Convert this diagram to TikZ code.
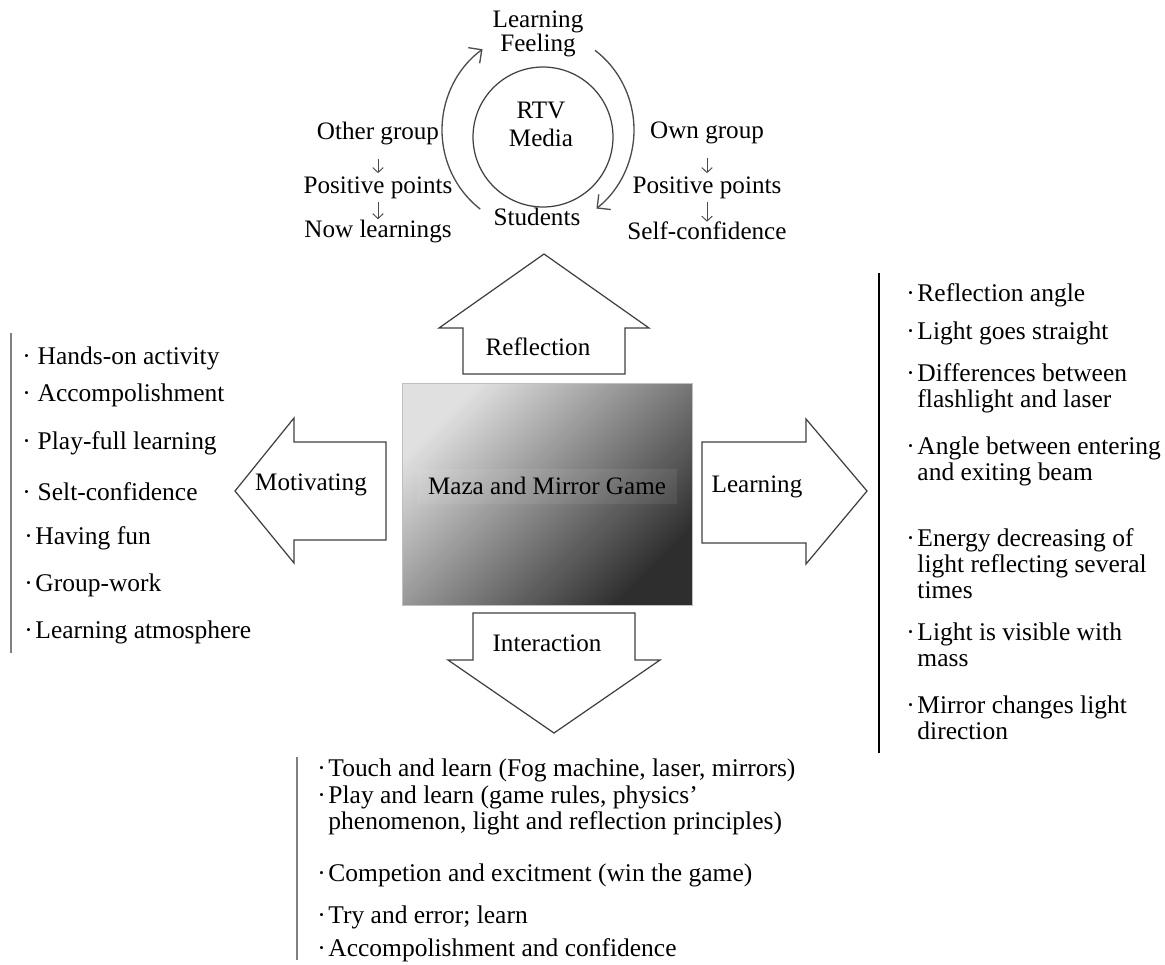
\documentclass[tikz,border=0pt]{standalone}
\usepackage{fontspec}
\setmainfont{Liberation Serif}
\usetikzlibrary{arrows.meta}
\newcommand{\dotitem}{·\kern1.5pt}
\newcommand{\dotgap}{\phantom{\dotitem}}

\begin{document}
\begin{tikzpicture}[x=0.02cm, y=-0.02cm,
    txt/.style={font=\fontsize{14.3}{15}\selectfont, inner sep=0pt},
    listitem/.style={font=\fontsize{14.5}{14.8}\selectfont, inner sep=0pt, anchor=west, align=left},
    bigarrow/.style={draw=black!75, line width=0.7pt, fill=white},
    cycarrow/.style={draw=black!70, line width=0.75pt, -{Straight Barb[length=5.5pt,width=11pt]}},
    smallarrow/.style={draw=black!70, line width=0.55pt, -{Straight Barb[length=2.8pt,width=6pt]}}]

  \useasboundingbox (0,0) rectangle (1165,964);

  % cycle at the top
  \node[circle, draw=black!75, line width=0.7pt, minimum size=2.8cm] (rtv) at (543,137) {};
  \node[txt, align=center, font=\fontsize{14.3}{16}\selectfont] (media) at (541,124) {RTV\\Media};
  \node[txt] (learn) at (538,22) {Learning};
  \node[txt] (feel) at (538,45) {Feeling};
  \node[txt] (stud) at (537,217) {Students};
  \coordinate (cyc) at (538,130);
  \draw[cycarrow] (cyc) ++(127:96 and 99) arc[start angle=127, end angle=234.7, x radius=96, y radius=99];
  \draw[cycarrow] (cyc) ++(-53.6:96 and 99) arc[start angle=-53.6, end angle=52.5, x radius=96, y radius=99];

  \node[txt] (other) at (378,133) {Other group};
  \node[txt] (posl) at (378,188) {Positive points};
  \node[txt] (now) at (378,231) {Now learnings};
  \draw[smallarrow, shorten <=8pt, shorten >=2pt] (other) -- (posl);
  \draw[smallarrow, shorten <=1.5pt, shorten >=0pt] (posl) -- (now);

  \node[txt] (own) at (707,133) {Own group};
  \node[txt] (posr) at (707,188) {Positive points};
  \node[txt] (self) at (707,231) {Self-confidence};
  \draw[smallarrow, shorten <=8pt, shorten >=2pt] (own) -- (posr);
  \draw[smallarrow, shorten <=1.5pt, shorten >=0pt] (posr) -- (self);

  % the four big arrows
  \draw[bigarrow] (463,374) -- (463,328) -- (439,328) -- (544,254) -- (649,328) -- (625,328) -- (625,374) -- cycle;
  \draw[bigarrow] (473,613) -- (635,613) -- (635,660) -- (660,660) -- (554,733) -- (448,660) -- (473,660) -- cycle;
  \draw[bigarrow] (386,442) -- (294,442) -- (294,418) -- (235,491) -- (294,563) -- (294,540) -- (386,540) -- cycle;
  \draw[bigarrow] (702,442) -- (806,442) -- (806,419) -- (867,491) -- (806,564) -- (806,543) -- (702,543) -- cycle;
  \node[txt] (refl) at (538,347) {Reflection};
  \node[txt] (inter) at (547,643) {Interaction};
  \node[txt] (motiv) at (311,485) {Motivating};
  \node[txt] (lrn) at (757,487) {Learning};

  % game box
  \node[draw=black!25, line width=0.4pt, minimum width=5.8cm, minimum height=4.44cm,
        top color=black!12, bottom color=black!82, shading angle=45] (game) at (547,494) {};
  \node[txt, fill=white, fill opacity=0.07, text opacity=1, minimum width=5.2cm, minimum height=0.7cm] (gamelabel) at (547,486) {Maza and Mirror Game};

  % left list
  \draw[black!50, line width=0.7pt] (11,333) -- (11,653);
  \node[listitem] (m1) at (22,358) {\dotitem\,Hands-on activity};
  \node[listitem] (m2) at (22,395) {\dotitem\,Accompolishment};
  \node[listitem] (m3) at (22,443) {\dotitem\,Play-full learning};
  \node[listitem] (m4) at (22,492) {\dotitem\,Selt-confidence};
  \node[listitem] (m5) at (24,538) {\dotitem Having fun};
  \node[listitem] (m6) at (24,585) {\dotitem Group-work};
  \node[listitem] (m7) at (24,632) {\dotitem Learning atmosphere};

  % right list
  \draw[black, line width=0.7pt] (879,273) -- (879,753);
  \node[listitem] (l1) at (906,295) {\dotitem Reflection angle};
  \node[listitem] (l2) at (906,333) {\dotitem Light goes straight};
  \node[listitem] (l3) at (906,388) {\dotitem Differences between\\\dotgap flashlight and laser};
  \node[listitem] (l4) at (906,461) {\dotitem Angle between entering\\\dotgap and exiting beam};
  \node[listitem] (l5) at (906,564) {\dotitem Energy decreasing of\\\dotgap light reflecting several\\\dotgap times};
  \node[listitem] (l6) at (906,645) {\dotitem Light is visible with\\\dotgap mass};
  \node[listitem] (l7) at (906,718) {\dotitem Mirror changes light\\\dotgap direction};

  % bottom list
  \draw[black!50, line width=0.7pt] (297,757) -- (297,960);
  \node[listitem] (i1) at (317,770) {\dotitem Touch and learn (Fog machine, laser, mirrors)};
  \node[listitem] (i2) at (317,810) {\dotitem Play and learn (game rules, physics’\\\dotgap phenomenon, light and reflection principles)};
  \node[listitem] (i3) at (317,875) {\dotitem Competion and excitment (win the game)};
  \node[listitem] (i4) at (317,917) {\dotitem Try and error; learn};
  \node[listitem] (i5) at (317,950) {\dotitem Accompolishment and confidence};
\end{tikzpicture}
\end{document}
